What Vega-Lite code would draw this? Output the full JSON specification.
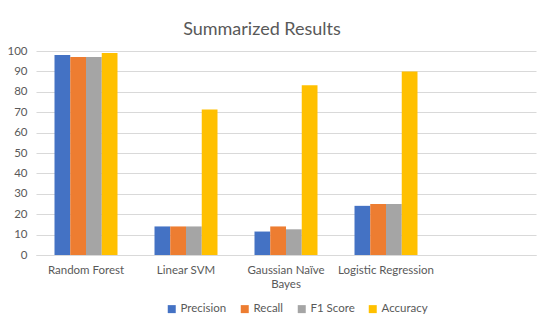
{
  "$schema": "https://vega.github.io/schema/vega-lite/v6.json",
  "autosize": {"type": "none"},
  "width": 500,
  "height": 204,
  "padding": {"left": 36, "top": 51, "right": 14, "bottom": 76},
  "background": "white",
  "title": {"text": "Summarized Results", "fontSize": 18, "font": "Lato", "fontWeight": "normal", "color": "#595959", "offset": 6, "dx": -24},
  "data": {"values": [
    {"model": "Random Forest", "metric": "Precision", "value": 98},
    {"model": "Random Forest", "metric": "Recall", "value": 97},
    {"model": "Random Forest", "metric": "F1 Score", "value": 97},
    {"model": "Random Forest", "metric": "Accuracy", "value": 99},
    {"model": "Linear SVM", "metric": "Precision", "value": 14},
    {"model": "Linear SVM", "metric": "Recall", "value": 14},
    {"model": "Linear SVM", "metric": "F1 Score", "value": 14},
    {"model": "Linear SVM", "metric": "Accuracy", "value": 71.3},
    {"model": "Gaussian Naïve Bayes", "metric": "Precision", "value": 11.5},
    {"model": "Gaussian Naïve Bayes", "metric": "Recall", "value": 14},
    {"model": "Gaussian Naïve Bayes", "metric": "F1 Score", "value": 12.6},
    {"model": "Gaussian Naïve Bayes", "metric": "Accuracy", "value": 83.2},
    {"model": "Logistic Regression", "metric": "Precision", "value": 24.1},
    {"model": "Logistic Regression", "metric": "Recall", "value": 25},
    {"model": "Logistic Regression", "metric": "F1 Score", "value": 25},
    {"model": "Logistic Regression", "metric": "Accuracy", "value": 90}
  ]},
  "mark": {"type": "bar"},
  "encoding": {
    "x": {
      "field": "model", "type": "nominal", "sort": null,
      "scale": {"domain": ["Random Forest", "Linear SVM", "Gaussian Naïve Bayes", "Logistic Regression", " "], "paddingInner": 0.37, "paddingOuter": 0.185},
      "axis": {"title": null, "labelAngle": 0, "ticks": false, "domainColor": "#D9D9D9", "labelPadding": 9, "labelColor": "#595959", "labelFont": "Lato", "labelFontSize": 11.5, "labelLineHeight": 14,
        "labelExpr": "datum.value == 'Gaussian Naïve Bayes' ? ['Gaussian Naïve', 'Bayes'] : datum.value"}
    },
    "xOffset": {"field": "metric", "type": "nominal", "sort": ["Precision", "Recall", "F1 Score", "Accuracy"], "scale": {"paddingInner": 0, "paddingOuter": 0}},
    "y": {
      "field": "value", "type": "quantitative",
      "scale": {"domain": [0, 100]},
      "axis": {"title": null, "values": [0, 10, 20, 30, 40, 50, 60, 70, 80, 90, 100], "domain": false, "ticks": false, "gridColor": "#D9D9D9", "labelPadding": 9, "labelColor": "#595959", "labelFont": "Lato", "labelFontSize": 11.5}
    },
    "color": {
      "field": "metric", "type": "nominal",
      "sort": ["Precision", "Recall", "F1 Score", "Accuracy"],
      "scale": {"domain": ["Precision", "Recall", "F1 Score", "Accuracy"], "range": ["#4472C4", "#ED7D31", "#A5A5A5", "#FFC000"]},
      "legend": {"title": null, "orient": "none", "legendX": 130, "legendY": 252, "direction": "horizontal", "symbolType": "square", "symbolSize": 64, "symbolStrokeWidth": 0, "labelFont": "Lato", "labelFontSize": 11.5, "labelColor": "#595959", "columnPadding": 12, "labelOffset": 3}
    }
  },
  "config": {"view": {"stroke": null}}
}
